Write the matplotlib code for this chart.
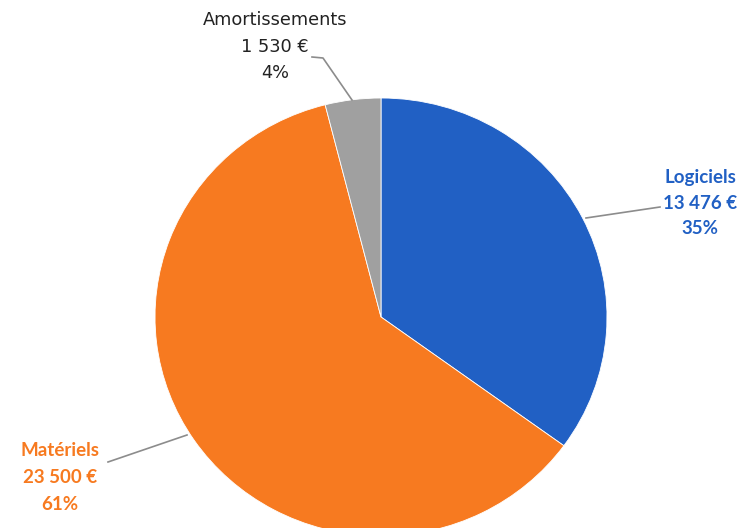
import matplotlib
matplotlib.use("Agg")
import matplotlib.pyplot as plt

W, H = 746, 528

categories = ["Logiciels", "Matériels", "Amortissements"]
values = [13476, 23500, 1530]
value_labels = ["13 476 €", "23 500 €", "1 530 €"]
pct_labels = ["35%", "61%", "4%"]
colors = ["#2160c4", "#f77a20", "#a0a0a0"]
text_colors = ["#2160c4", "#f77a20", "#222222"]

plt.rcParams['font.family'] = ['Lato', 'DejaVu Sans']

fig = plt.figure(figsize=(W / 100, H / 100), dpi=100)

# pie in its own axes (scan is slightly squashed vertically)
cx, cy, rx, ry = 381, 317, 226, 219
pax = fig.add_axes([(cx - rx) / W, (H - cy - ry) / H, 2 * rx / W, 2 * ry / H])
pax.pie(values, colors=colors, startangle=90, counterclock=False,
        radius=1, wedgeprops=dict(edgecolor='white', linewidth=0.6))
pax.set_aspect('auto')
pax.set_xlim(-1, 1)
pax.set_ylim(-1, 1)
pax.axis('off')

# overlay in pixel coordinates for labels and leader lines
ax = fig.add_axes([0, 0, 1, 1])
ax.set_xlim(0, W)
ax.set_ylim(H, 0)
ax.axis('off')
ax.patch.set_alpha(0)

label_pos = [(700, 178), (60, 450), (275, 20)]
spacing = [25.5, 27.5, 26.5]
leaders = [
    [(586, 218), (660, 207)],
    [(108, 462), (187, 435)],
    [(312, 57), (323, 58), (352, 100)],
]
weights = ["bold", "bold", "normal"]
families = [['Lato'], ['Lato'], ['DejaVu Sans']]
sizes = [13.5, 13.5, 12.8]

for i, name in enumerate(categories):
    x, y = label_pos[i]
    lines = [name, value_labels[i], pct_labels[i]]
    for k, t in enumerate(lines):
        ax.text(x, y + k * spacing[i], t, ha='center', va='center',
                fontsize=sizes[i], color=text_colors[i], fontweight=weights[i],
                family=families[i])
    xs = [p[0] for p in leaders[i]]
    ys = [p[1] for p in leaders[i]]
    ax.plot(xs, ys, color='#8c8c8c', lw=1.2)

fig.savefig("out.png", dpi=100)
